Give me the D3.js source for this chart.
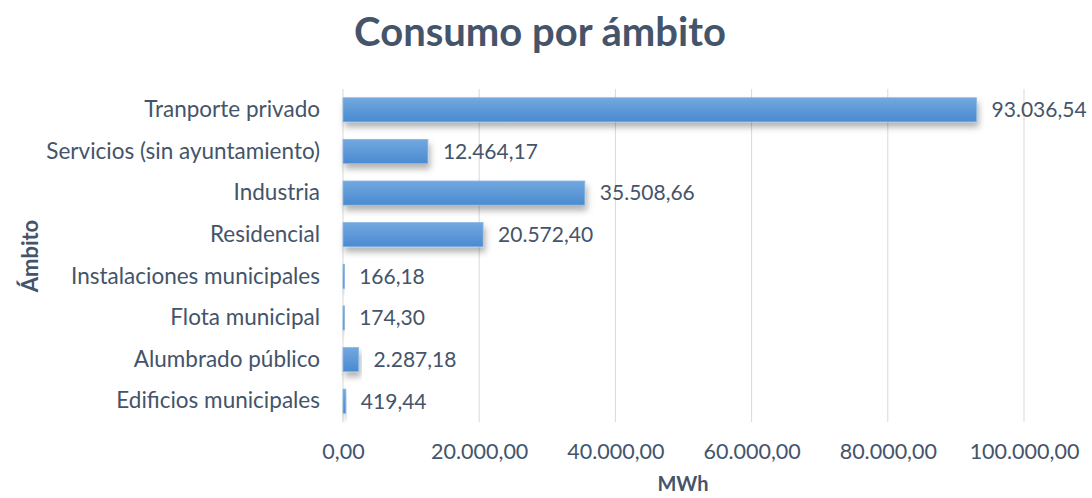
<!DOCTYPE html>
<html>
<head>
<meta charset="utf-8">
<script src="https://cdn.jsdelivr.net/npm/d3@7"></script>
<style>
  body { margin: 0; background: #fff; }
  svg { font-family: Lato, "Open Sans", sans-serif; }
</style>
</head>
<body>
<script>
// chart data
const categories = [
  "Tranporte privado",
  "Servicios (sin ayuntamiento)",
  "Industria",
  "Residencial",
  "Instalaciones municipales",
  "Flota municipal",
  "Alumbrado público",
  "Edificios municipales"
];
const values = [93036.54, 12464.17, 35508.66, 20572.40, 166.18, 174.30, 2287.18, 419.44];
const tickValues = [0, 20000, 40000, 60000, 80000, 100000];

const width = 1092, height = 498;
const margin = { top: 89, right: 68, bottom: 76, left: 343 };
const textColor = "#44546a";

const fmt = d3.formatLocale({ decimal: ",", thousands: ".", grouping: [3], currency: ["", ""] }).format(",.2f");

const svg = d3.select("body").append("svg")
  .attr("width", width)
  .attr("height", height);

const defs = svg.append("defs");
const grad = defs.append("linearGradient")
  .attr("id", "barGrad")
  .attr("x1", 0).attr("y1", 0).attr("x2", 0).attr("y2", 1);
grad.append("stop").attr("offset", "0%").attr("stop-color", "#72a8df");
grad.append("stop").attr("offset", "100%").attr("stop-color", "#4a8ad0");

const shadow = defs.append("filter")
  .attr("id", "shadow")
  .attr("x", "-10%").attr("y", "-30%").attr("width", "130%").attr("height", "190%");
shadow.append("feDropShadow")
  .attr("dx", 2).attr("dy", 5).attr("stdDeviation", 3)
  .attr("flood-color", "#000").attr("flood-opacity", 0.3);

const x = d3.scaleLinear()
  .domain([0, 100000])
  .range([margin.left, width - margin.right]);

const y = d3.scaleBand()
  .domain(categories)
  .range([margin.top, height - margin.bottom])
  .paddingInner(0.42)
  .paddingOuter(0.21);

// title
svg.append("text")
  .attr("x", 540)
  .attr("y", 46)
  .attr("text-anchor", "middle")
  .attr("font-size", 40)
  .attr("font-weight", "bold")
  .attr("fill", textColor)
  .text("Consumo por ámbito");

// gridlines
svg.append("g")
  .selectAll("line")
  .data(tickValues)
  .join("line")
  .attr("x1", d => x(d)).attr("x2", d => x(d))
  .attr("y1", margin.top).attr("y2", height - margin.bottom)
  .attr("stroke", "#d9d9d9")
  .attr("stroke-width", 1);

// x axis
const xAxis = svg.append("g")
  .attr("transform", `translate(0,${height - margin.bottom})`)
  .call(d3.axisBottom(x).tickValues(tickValues).tickFormat(fmt).tickSize(0).tickPadding(22));
xAxis.select(".domain").remove();
xAxis.selectAll("text")
  .attr("font-size", 21.5)
  .attr("font-family", "Lato, sans-serif")
  .attr("fill", textColor);

// y axis
const yAxis = svg.append("g")
  .attr("transform", `translate(${margin.left},0)`)
  .call(d3.axisLeft(y).tickSize(0).tickPadding(23));
yAxis.select(".domain").remove();
yAxis.selectAll("text")
  .attr("font-size", 22.5)
  .attr("font-family", "Lato, sans-serif")
  .attr("fill", textColor);

// bars
svg.append("g")
  .selectAll("rect")
  .data(values)
  .join("rect")
  .attr("x", x(0))
  .attr("y", (d, i) => y(categories[i]))
  .attr("width", d => Math.max(1.5, x(d) - x(0)))
  .attr("height", y.bandwidth())
  .attr("fill", "url(#barGrad)")
  .attr("stroke", "#8ab8e6")
  .attr("stroke-width", 0.8)
  .attr("filter", "url(#shadow)");

// value labels
svg.append("g")
  .selectAll("text")
  .data(values)
  .join("text")
  .attr("x", d => x(d) + 15)
  .attr("y", (d, i) => y(categories[i]) + y.bandwidth() / 2)
  .attr("dy", "0.35em")
  .attr("font-size", 21)
  .attr("fill", textColor)
  .text(d => fmt(d));

// axis titles
svg.append("text")
  .attr("x", 683)
  .attr("y", 491)
  .attr("text-anchor", "middle")
  .attr("font-size", 20)
  .attr("font-weight", "bold")
  .attr("fill", textColor)
  .text("MWh");

svg.append("text")
  .attr("transform", "translate(38,256) rotate(-90)")
  .attr("text-anchor", "middle")
  .attr("font-size", 22)
  .attr("font-weight", "bold")
  .attr("fill", textColor)
  .text("Ámbito");
</script>
</body>
</html>
